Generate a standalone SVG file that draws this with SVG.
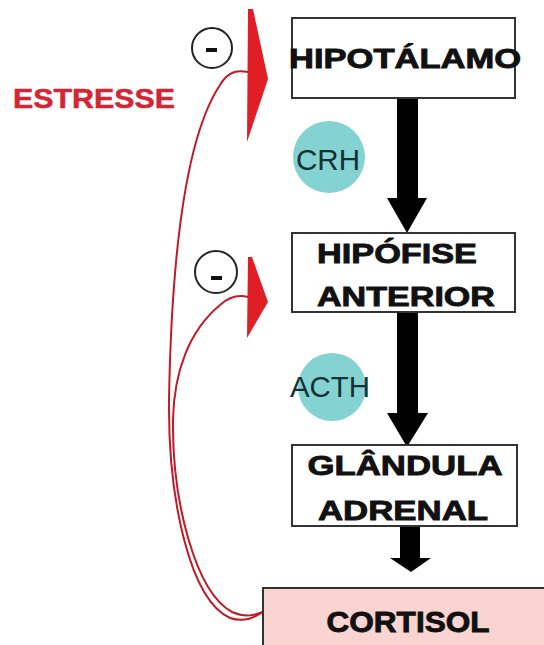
<svg xmlns="http://www.w3.org/2000/svg" width="544" height="645" viewBox="0 0 544 645">
<style>
.box{fill:#ffffff;stroke:#333333;stroke-width:2}
.lbl{font-family:"Liberation Sans",Arial,sans-serif;font-weight:bold;fill:#111111;stroke:#111111;stroke-width:0.9;text-anchor:middle}
.hor{font-family:"Liberation Sans",Arial,sans-serif;fill:#123232;text-anchor:middle}
.hc{fill:#84d2d2}
.blk{fill:#000000}
.fb{fill:none;stroke:#c01a28;stroke-width:2}
.tri{fill:#e01e26}
.neg{fill:#ffffff;stroke:#222222;stroke-width:2}
</style>
<rect width="544" height="645" fill="#ffffff"/>
<g id="connectors">
  <path class="blk" d="M397,98 L418,98 L418,198 L427,198 L407,233 L387,198 L397,198 Z"/>
  <path class="blk" d="M397,312 L418,312 L418,413 L428,413 L407,447 L387,413 L397,413 Z"/>
  <path class="blk" d="M400,526 L420,526 L420,558 L431,558 L411,572 L390,558 L400,558 Z"/>
  <path class="fb" d="M248,72 C238,70 228,71 220,85 C190,130 172,230 169,400 C168,500 190,600 230,618 C245,623 255,617 263,612"/>
  <path class="fb" d="M248,297 C240,295 230,296 220,305 C190,330 174,370 173,420 C172,500 195,592 232,612 C246,618 255,615 263,612"/>
  <polygon class="tri" points="248,9 253,9 268,79 247,142"/>
  <polygon class="tri" points="248,257 252,257 268,302 247,338"/>
</g>
<g id="estresse">
  <text x="94" y="108" font-family="Liberation Sans, Arial, sans-serif" font-weight="bold" font-size="28" fill="#d42535" stroke="#d42535" stroke-width="0.5" text-anchor="middle" textLength="162" lengthAdjust="spacingAndGlyphs">ESTRESSE</text>
</g>
<g id="neg1">
  <circle class="neg" cx="212" cy="48" r="20"/>
  <rect x="206" y="48" width="11" height="4" fill="#111111"/>
</g>
<g id="neg2">
  <circle class="neg" cx="216" cy="272" r="21"/>
  <rect x="211" y="276" width="11" height="4" fill="#111111"/>
</g>
<g id="hipotalamo">
  <rect class="box" x="292" y="18" width="223" height="80"/>
  <text class="lbl" x="405" y="68" font-size="28" textLength="232" lengthAdjust="spacingAndGlyphs">HIPOTÁLAMO</text>
</g>
<g id="crh">
  <circle class="hc" cx="329" cy="157" r="36"/>
  <text class="hor" x="328" y="170" font-size="29" textLength="64" lengthAdjust="spacingAndGlyphs">CRH</text>
</g>
<g id="hipofise">
  <rect class="box" x="292" y="233" width="223" height="79"/>
  <text class="lbl" x="397" y="263" font-size="28" textLength="160" lengthAdjust="spacingAndGlyphs">HIPÓFISE</text>
  <text class="lbl" x="406" y="306" font-size="28" textLength="178" lengthAdjust="spacingAndGlyphs">ANTERIOR</text>
</g>
<g id="acth">
  <circle class="hc" cx="332" cy="387" r="34"/>
  <text class="hor" x="330" y="397" font-size="29" textLength="80" lengthAdjust="spacingAndGlyphs">ACTH</text>
</g>
<g id="adrenal">
  <rect class="box" x="292" y="445" width="225" height="81"/>
  <text class="lbl" x="405" y="475" font-size="28" textLength="195" lengthAdjust="spacingAndGlyphs">GLÂNDULA</text>
  <text class="lbl" x="403" y="520" font-size="28" textLength="170" lengthAdjust="spacingAndGlyphs">ADRENAL</text>
</g>
<g id="cortisol">
  <rect x="263" y="588" width="290" height="70" fill="#f9d4d1" stroke="#333333" stroke-width="2"/>
  <text class="lbl" x="408" y="632" font-size="30" textLength="163" lengthAdjust="spacingAndGlyphs">CORTISOL</text>
</g>
</svg>
